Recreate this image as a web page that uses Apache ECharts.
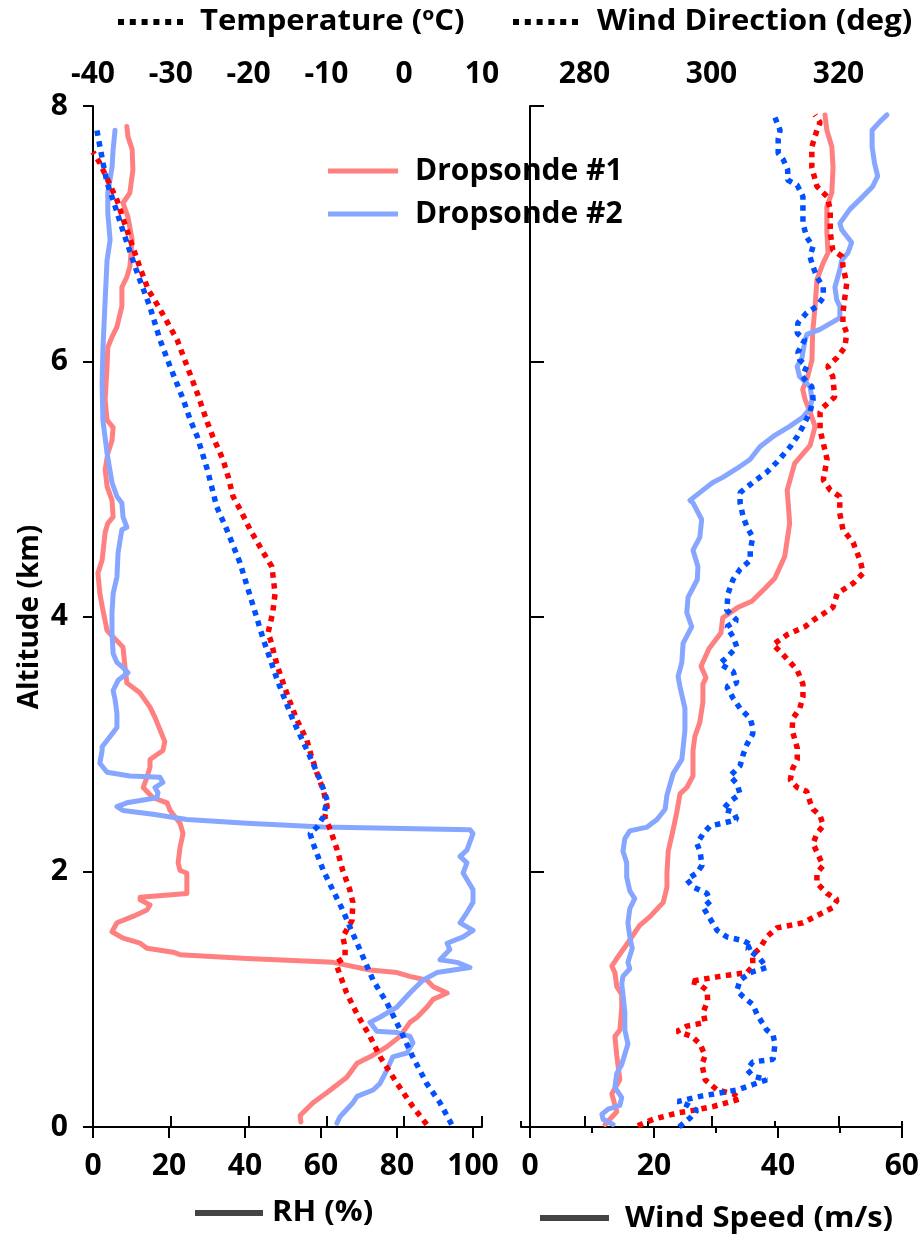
<!DOCTYPE html>
<html><head><meta charset="utf-8">
<script src="https://cdn.jsdelivr.net/npm/echarts@6/dist/echarts.min.js"></script>
<style>html,body{margin:0;padding:0;background:#fff}#c{width:922px;height:1241px}</style>
</head><body><div id="c"></div>
<script>
// ---- data: [value, altitude km] ----
const seriesNames = ['Dropsonde #1', 'Dropsonde #2'];
const altTicks = [0, 2, 4, 6, 8];
const rhTicks = [0, 20, 40, 60, 80, 100];
const tempTicks = [-40, -30, -20, -10, 0, 10];
const wsTicks = [0, 20, 40, 60];
const wdTicks = [280, 300, 320];
const wdMinorTicks = [270, 290, 310, 330];

const rh1 = [[54.7,0.04],[54.5,0.09],[57.9,0.19],[61.6,0.27],[66.8,0.39],[69.5,0.50],[72.9,0.55],[77.4,0.63],[80.8,0.71],[83.4,0.82],[85.3,0.86],[87.9,0.94],[89.5,1.00],[93.2,1.05],[89.5,1.10],[87.9,1.15],[83.4,1.18],[80.0,1.21],[72.9,1.23],[63.2,1.29],[40.5,1.32],[22.9,1.35],[21.1,1.37],[14.2,1.40],[12.4,1.44],[7.9,1.48],[5.0,1.53],[6.3,1.60],[10.5,1.65],[14.2,1.70],[15.0,1.74],[12.4,1.78],[12.4,1.80],[24.7,1.83],[24.7,1.91],[24.7,1.99],[22.9,2.01],[22.4,2.07],[22.9,2.19],[23.7,2.30],[22.9,2.38],[20.3,2.48],[19.5,2.54],[15.8,2.58],[13.2,2.66],[14.2,2.74],[15.0,2.82],[15.0,2.88],[18.4,2.95],[18.9,3.02],[16.3,3.21],[15.0,3.29],[12.4,3.40],[8.9,3.48],[8.4,3.61],[7.9,3.76],[5.3,3.84],[3.7,3.89],[2.6,4.05],[1.8,4.18],[1.3,4.34],[2.4,4.44],[3.2,4.66],[3.9,4.73],[5.3,4.78],[5.0,4.91],[3.7,5.02],[3.2,5.15],[3.9,5.28],[5.0,5.38],[5.3,5.48],[3.7,5.54],[3.2,5.70],[3.7,5.96],[3.9,6.11],[5.0,6.19],[6.3,6.27],[7.6,6.43],[7.6,6.58],[8.9,6.66],[9.7,6.74],[10.3,6.95],[9.2,7.13],[7.9,7.24],[9.7,7.32],[10.5,7.50],[10.3,7.66],[9.2,7.76],[8.9,7.84]];
const rh2 = [[64.2,0.03],[65.0,0.08],[68.4,0.19],[69.5,0.24],[73.7,0.29],[75.5,0.34],[77.4,0.45],[78.9,0.55],[82.6,0.58],[84.2,0.66],[83.4,0.71],[80.0,0.74],[74.7,0.75],[72.9,0.82],[75.5,0.86],[80.0,0.94],[83.4,1.05],[86.8,1.15],[90.5,1.21],[99.2,1.25],[95.8,1.29],[91.3,1.31],[93.9,1.39],[93.2,1.44],[97.4,1.49],[100,1.54],[96.6,1.60],[98.4,1.68],[100,1.76],[100,1.86],[98.4,1.94],[97.4,1.99],[98.4,2.07],[96.6,2.12],[98.4,2.17],[100,2.30],[99.2,2.33],[60.5,2.35],[40.5,2.38],[24.7,2.41],[15.8,2.45],[7.9,2.48],[6.3,2.51],[8.9,2.54],[16.8,2.58],[17.1,2.62],[16.3,2.66],[18.4,2.70],[17.6,2.74],[9.7,2.75],[3.7,2.78],[1.8,2.85],[2.4,2.95],[2.4,2.98],[4.5,3.06],[6.3,3.13],[6.3,3.24],[5.8,3.35],[5.3,3.42],[6.6,3.50],[9.2,3.56],[7.9,3.60],[6.3,3.64],[5.3,3.71],[5.0,3.87],[5.0,4.03],[5.3,4.18],[6.3,4.31],[6.6,4.50],[7.6,4.68],[8.9,4.70],[7.9,4.78],[7.6,4.89],[6.3,4.94],[5.0,5.05],[3.7,5.28],[2.6,5.54],[2.4,5.83],[2.6,6.09],[3.2,6.48],[3.7,6.79],[4.5,6.95],[3.9,7.16],[3.9,7.32],[5.0,7.52],[5.3,7.66],[5.8,7.81]];
const temp1 = [[2.9,0.02],[1.1,0.16],[-0.9,0.34],[-3.1,0.55],[-4.4,0.71],[-6.1,0.89],[-7.4,1.05],[-8.6,1.25],[-8.6,1.29],[-7.6,1.33],[-7.6,1.41],[-7.9,1.49],[-6.7,1.62],[-6.6,1.76],[-7.0,1.86],[-7.9,2.01],[-8.6,2.17],[-9.5,2.33],[-10.2,2.43],[-9.9,2.51],[-10.4,2.64],[-11.2,2.77],[-12.0,2.92],[-12.5,3.03],[-13.8,3.19],[-15.1,3.40],[-16.3,3.61],[-17.2,3.82],[-17.5,3.87],[-16.9,4.03],[-16.6,4.18],[-17.0,4.39],[-18.1,4.50],[-19.8,4.68],[-21.1,4.84],[-22.0,4.94],[-22.6,5.09],[-23.3,5.23],[-24.6,5.41],[-25.3,5.52],[-26.6,5.75],[-27.9,5.96],[-29.2,6.17],[-30.4,6.30],[-31.6,6.43],[-32.9,6.56],[-34.0,6.74],[-35.2,6.95],[-36.1,7.11],[-36.9,7.26],[-38.1,7.42],[-39.1,7.55],[-40.0,7.64]];
const temp2 = [[6.1,0.02],[4.6,0.19],[2.9,0.34],[1.1,0.55],[-0.5,0.76],[-2.2,0.97],[-4.0,1.15],[-5.7,1.39],[-7.0,1.57],[-7.9,1.70],[-9.2,1.86],[-10.4,2.01],[-11.7,2.22],[-12.1,2.30],[-11.2,2.35],[-10.4,2.43],[-9.9,2.56],[-10.8,2.72],[-12.1,2.90],[-14.3,3.19],[-16.3,3.50],[-18.1,3.82],[-19.4,4.08],[-21.1,4.42],[-22.8,4.68],[-24.1,4.86],[-25.3,5.15],[-26.6,5.41],[-27.5,5.54],[-28.4,5.70],[-30.1,5.96],[-31.4,6.17],[-32.7,6.43],[-34.0,6.64],[-35.2,6.85],[-36.3,7.05],[-37.4,7.26],[-38.2,7.40],[-38.7,7.55],[-39.1,7.68],[-39.5,7.81]];
const ws1 = [[12.1,0.02],[14.0,0.12],[13.2,0.26],[14.5,0.37],[14.0,0.56],[13.7,0.71],[14.5,0.76],[14.8,0.93],[14.8,1.04],[14.0,1.10],[13.7,1.21],[13.2,1.26],[14.0,1.32],[15.6,1.43],[17.7,1.58],[19.4,1.65],[21.5,1.76],[22.1,1.88],[22.1,1.99],[22.3,2.16],[23.1,2.33],[23.7,2.47],[24.2,2.61],[25.3,2.66],[26.3,2.75],[26.3,2.95],[26.6,3.06],[27.4,3.17],[27.9,3.33],[27.9,3.47],[28.4,3.52],[27.6,3.61],[28.9,3.75],[30.8,3.87],[31.1,3.99],[33.5,4.07],[35.8,4.12],[37.9,4.22],[39.5,4.30],[41.1,4.47],[41.9,4.73],[41.5,4.99],[42.7,5.20],[45.2,5.34],[46.0,5.49],[45.2,5.60],[44.4,5.70],[44.0,5.78],[44.8,5.88],[45.5,6.01],[45.6,6.22],[46.0,6.43],[46.3,6.64],[47.3,6.77],[48.1,6.85],[47.9,7.01],[47.9,7.21],[48.7,7.32],[48.9,7.52],[48.7,7.68],[47.9,7.81],[47.6,7.93]];
const ws2 = [[13.4,0.02],[11.8,0.06],[11.6,0.10],[12.6,0.14],[14.5,0.17],[14.8,0.23],[13.7,0.31],[14.0,0.42],[14.8,0.49],[15.3,0.57],[15.8,0.65],[15.3,0.76],[15.3,0.90],[15.0,1.04],[14.8,1.12],[15.0,1.18],[16.1,1.24],[15.8,1.29],[16.5,1.40],[16.1,1.49],[15.8,1.60],[16.1,1.71],[16.9,1.79],[16.1,1.85],[15.6,1.96],[15.6,2.07],[15.0,2.16],[15.3,2.26],[16.1,2.32],[18.9,2.35],[20.5,2.41],[21.8,2.49],[22.1,2.60],[23.1,2.77],[24.5,2.88],[24.7,2.97],[25.0,3.11],[25.0,3.28],[24.2,3.45],[23.9,3.53],[24.5,3.64],[24.7,3.79],[26.1,3.92],[25.3,4.03],[25.5,4.15],[27.0,4.29],[27.1,4.39],[26.3,4.52],[27.4,4.62],[27.7,4.76],[26.3,4.89],[25.8,4.91],[27.9,4.99],[29.5,5.05],[31.1,5.09],[33.4,5.16],[35.5,5.23],[37.1,5.33],[39.5,5.42],[41.9,5.49],[44.0,5.56],[45.2,5.63],[45.5,5.70],[45.2,5.80],[43.5,5.88],[43.1,5.96],[43.9,6.03],[44.4,6.17],[44.7,6.21],[46.8,6.25],[50.0,6.34],[50.0,6.43],[49.5,6.48],[49.2,6.58],[50.0,6.72],[50.3,6.79],[51.3,6.85],[51.9,6.93],[50.3,7.03],[50.0,7.08],[51.6,7.19],[53.7,7.29],[55.3,7.37],[56.1,7.45],[55.6,7.55],[55.2,7.68],[55.2,7.81],[56.5,7.88],[57.6,7.93]];
const wd1 = [[288.4,0.01],[290.8,0.06],[294.6,0.11],[297.1,0.13],[300.2,0.16],[304.5,0.22],[303.4,0.26],[300.9,0.29],[299.0,0.37],[298.5,0.49],[299.0,0.56],[298.2,0.65],[296.9,0.71],[294.6,0.75],[296.1,0.79],[299.0,0.82],[298.7,0.90],[299.4,0.99],[299.3,1.07],[297.7,1.13],[296.6,1.14],[301.3,1.18],[305.6,1.21],[306.5,1.26],[306.5,1.35],[307.6,1.40],[308.7,1.49],[310.3,1.56],[314.4,1.60],[319.1,1.72],[319.8,1.78],[318.2,1.83],[316.6,1.91],[316.6,1.99],[317.6,2.05],[317.1,2.10],[316.0,2.22],[316.6,2.30],[317.6,2.36],[317.1,2.44],[316.0,2.49],[315.5,2.55],[315.0,2.63],[313.5,2.66],[312.4,2.72],[312.8,2.81],[313.5,2.88],[313.5,2.97],[312.7,3.11],[312.8,3.20],[313.9,3.28],[314.4,3.37],[314.4,3.47],[313.5,3.58],[311.3,3.70],[309.7,3.78],[312.0,3.86],[314.7,3.92],[316.0,3.97],[319.1,4.07],[319.8,4.18],[322.3,4.26],[323.9,4.34],[323.4,4.44],[322.3,4.58],[320.7,4.68],[320.2,4.81],[320.2,4.94],[318.7,4.99],[317.6,5.07],[318.2,5.23],[317.6,5.36],[317.1,5.46],[317.1,5.60],[317.6,5.64],[319.4,5.72],[319.1,5.88],[318.3,5.96],[319.8,6.03],[321.0,6.11],[321.3,6.22],[320.7,6.30],[320.7,6.38],[321.0,6.50],[321.3,6.61],[320.7,6.74],[320.6,6.82],[319.1,6.87],[318.7,7.01],[318.7,7.19],[318.2,7.29],[316.6,7.37],[315.8,7.52],[315.8,7.68],[316.6,7.81],[317.1,7.87],[316.3,7.93]];
const wd2 = [[294.9,0.00],[296.6,0.07],[297.7,0.13],[296.3,0.17],[294.7,0.20],[298.2,0.24],[304.0,0.29],[308.7,0.37],[306.5,0.40],[305.6,0.45],[306.5,0.51],[309.7,0.53],[310.0,0.65],[309.7,0.72],[308.7,0.76],[307.2,0.88],[306.5,0.96],[305.0,1.02],[304.0,1.07],[304.5,1.15],[306.1,1.21],[308.7,1.25],[307.6,1.32],[306.1,1.38],[305.6,1.40],[306.5,1.42],[305.0,1.46],[302.4,1.49],[300.9,1.54],[299.8,1.63],[298.7,1.72],[299.8,1.77],[299.3,1.83],[297.1,1.88],[296.1,1.94],[297.7,1.99],[298.5,2.05],[298.2,2.16],[297.7,2.22],[298.7,2.30],[299.8,2.36],[301.8,2.38],[304.0,2.41],[303.4,2.47],[301.8,2.49],[302.9,2.55],[304.5,2.61],[304.0,2.69],[302.9,2.75],[304.5,2.83],[305.0,2.92],[305.6,3.00],[306.5,3.08],[306.5,3.13],[306.1,3.20],[304.5,3.28],[303.4,3.36],[302.4,3.45],[304.0,3.48],[303.4,3.57],[301.3,3.63],[302.4,3.68],[304.0,3.76],[303.4,3.84],[302.4,3.92],[304.0,3.97],[302.4,4.05],[302.6,4.18],[303.4,4.29],[304.5,4.37],[306.1,4.44],[306.1,4.52],[306.5,4.62],[305.6,4.70],[305.0,4.78],[304.5,4.89],[304.5,4.97],[306.5,5.05],[308.7,5.13],[310.3,5.21],[312.4,5.33],[313.5,5.41],[314.4,5.49],[315.5,5.60],[316.0,5.70],[315.8,5.80],[315.2,5.83],[314.3,5.88],[315.0,5.96],[313.9,6.01],[313.6,6.07],[314.7,6.17],[313.5,6.22],[313.6,6.30],[315.0,6.38],[316.6,6.43],[317.6,6.50],[317.6,6.58],[316.6,6.66],[316.0,6.74],[315.5,6.82],[316.0,6.90],[315.0,6.97],[314.4,7.08],[314.4,7.19],[314.4,7.29],[313.5,7.38],[312.0,7.42],[312.0,7.50],[311.3,7.58],[310.5,7.63],[310.5,7.74],[310.8,7.81],[310.0,7.91]];

// ---- styling ----
const FONT = 'Open Sans';
const FS = 30;      // tick labels and legend
const FT = 28;      // axis titles (stretched horizontally below)
const C1 = '#FF8080', C2 = '#86A6FF', D1 = '#FF0000', D2 = '#0050FF';
const lbl = {fontFamily: FONT, fontSize: FS, fontWeight: 'bold', color: '#000'};
const axLine = {show: true, lineStyle: {color: '#000', width: 2}};
const TOP = 106, H = 1021;

const chart = echarts.init(document.getElementById('c'), null, {renderer: 'canvas'});

function solid(name, data, xi, yi, color) {
  return {type: 'line', name, data, xAxisIndex: xi, yAxisIndex: yi, showSymbol: false, symbol: 'none',
    clip: false, lineStyle: {color, width: 5, cap: 'round', join: 'round'}, itemStyle: {color}, z: 2};
}
function dotted(name, data, xi, yi, color) {
  return {type: 'line', name, data, xAxisIndex: xi, yAxisIndex: yi, showSymbol: false, symbol: 'none',
    clip: false, lineStyle: {color, width: 5.5, type: [5.5, 5.5], cap: 'butt', join: 'bevel'}, itemStyle: {color}, z: 3};
}
const hiddenY = (gi) => ({type: 'value', gridIndex: gi, min: altTicks[0], max: altTicks[altTicks.length - 1], show: false});
const title = (text, x, y) => ({type: 'text', x, y, scaleX: 1.107,
  style: {text, fontFamily: FONT, fontSize: FT, fontWeight: 'bold', fill: '#000', align: 'left', verticalAlign: 'middle'}});

const option = {
  animation: false,
  backgroundColor: '#fff',
  grid: [
    {left: 93, top: TOP, width: 380, height: H},
    {left: 93, top: TOP, width: 389, height: H},
    {left: 530, top: TOP, width: 372, height: H},
    {left: 521, top: TOP, width: 381, height: H},
    {left: 521, top: TOP, width: 381, height: H}
  ],
  xAxis: [
    {type: 'value', gridIndex: 0, position: 'bottom', min: rhTicks[0], max: rhTicks[rhTicks.length - 1], interval: 20,
      axisLine: axLine, axisTick: {show: true, inside: false, length: 11, lineStyle: {color: '#000', width: 2}},
      axisLabel: Object.assign({margin: 24}, lbl), splitLine: {show: false}},
    {type: 'value', gridIndex: 1, position: 'top', min: tempTicks[0], max: tempTicks[tempTicks.length - 1], interval: 10,
      axisLine: axLine, axisTick: {show: true, length: 11, lineStyle: {color: '#000', width: 2}},
      axisLabel: Object.assign({margin: 17}, lbl), splitLine: {show: false}},
    {type: 'value', gridIndex: 2, position: 'bottom', min: wsTicks[0], max: wsTicks[wsTicks.length - 1], interval: 20,
      axisLine: axLine, axisTick: {show: true, length: 11, lineStyle: {color: '#000', width: 2}},
      minorTick: {show: true, splitNumber: 2, length: 6, lineStyle: {color: '#000', width: 2}},
      axisLabel: Object.assign({margin: 24}, lbl), splitLine: {show: false}, minorSplitLine: {show: false}},
    {type: 'value', gridIndex: 3, position: 'top', min: wdMinorTicks[0], max: wdMinorTicks[wdMinorTicks.length - 1],
      axisLine: axLine, axisTick: {show: true, length: 11, customValues: wdTicks, lineStyle: {color: '#000', width: 2}},
      axisLabel: Object.assign({margin: 17, customValues: wdTicks}, lbl), splitLine: {show: false}},
    {type: 'value', gridIndex: 4, position: 'top', min: wdMinorTicks[0], max: wdMinorTicks[wdMinorTicks.length - 1],
      axisLine: {show: false}, axisTick: {show: true, length: 6, customValues: wdMinorTicks, lineStyle: {color: '#000', width: 2}},
      axisLabel: {show: false}, splitLine: {show: false}}
  ],
  yAxis: [
    {type: 'value', gridIndex: 0, position: 'left', offset: 6, min: altTicks[0], max: altTicks[altTicks.length - 1], interval: 2,
      axisLine: axLine, axisTick: {show: true, length: 10, lineStyle: {color: '#000', width: 2}},
      axisLabel: Object.assign({margin: 19}, lbl), splitLine: {show: false}},
    hiddenY(1),
    {type: 'value', gridIndex: 2, position: 'right', offset: 6, min: altTicks[0], max: altTicks[altTicks.length - 1], interval: 2,
      axisLine: axLine, axisTick: {show: true, length: 14, lineStyle: {color: '#000', width: 2}},
      axisLabel: {show: false}, splitLine: {show: false}},
    hiddenY(3),
    hiddenY(4)
  ],
  legend: {
    data: seriesNames, orient: 'vertical', left: 323, top: 151, itemWidth: 70, itemHeight: 5, itemGap: 13,
    icon: 'rect', selectedMode: false,
    textStyle: {fontFamily: FONT, fontSize: FS, fontWeight: 'bold', color: '#000', padding: [0, 0, 0, 12]}
  },
  series: [
    solid(seriesNames[0], rh1, 0, 0, C1),
    solid(seriesNames[1], rh2, 0, 0, C2),
    dotted(seriesNames[0], temp1, 1, 1, D1),
    dotted(seriesNames[1], temp2, 1, 1, D2),
    solid(seriesNames[0], ws1, 2, 2, C1),
    solid(seriesNames[1], ws2, 2, 2, C2),
    dotted(seriesNames[0], wd1, 3, 3, D1),
    dotted(seriesNames[1], wd2, 3, 3, D2)
  ],
  graphic: [
    {type: 'line', shape: {x1: 118, y1: 22, x2: 183, y2: 22}, style: {stroke: '#000', lineWidth: 6, lineDash: [6, 5.8]}},
    title('Temperature (ºC)', 200, 22),
    {type: 'line', shape: {x1: 513, y1: 22, x2: 578, y2: 22}, style: {stroke: '#000', lineWidth: 6, lineDash: [6, 5.8]}},
    title('Wind Direction (deg)', 597, 22),
    {type: 'line', shape: {x1: 195, y1: 1213, x2: 263, y2: 1213}, style: {stroke: '#444', lineWidth: 6}},
    title('RH (%)', 272, 1213),
    {type: 'line', shape: {x1: 540, y1: 1218, x2: 609, y2: 1218}, style: {stroke: '#444', lineWidth: 6}},
    title('Wind Speed (m/s)', 625, 1219),
    {type: 'text', x: 30, y: 617, rotation: Math.PI / 2, style: {text: 'Altitude (km)', fontFamily: FONT, fontSize: 28, fontWeight: 'bold', fill: '#000', align: 'center', verticalAlign: 'middle'}}
  ]
};
chart.setOption(option);
</script>
</body></html>
